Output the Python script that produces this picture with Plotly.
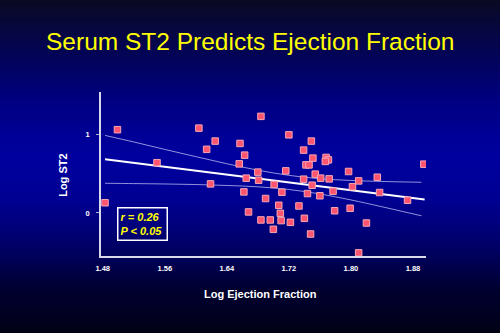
import plotly.graph_objects as go

# ---------------- data ----------------
log_ef = [1.483, 1.499, 1.550, 1.604, 1.614, 1.625, 1.619, 1.657, 1.663, 1.656,
          1.684, 1.680, 1.665, 1.681, 1.662, 1.690, 1.668, 1.684, 1.696, 1.720,
          1.716, 1.701, 1.711, 1.707, 1.709, 1.710, 1.722, 1.700, 1.749, 1.739,
          1.751, 1.768, 1.771, 1.767, 1.742, 1.746, 1.797, 1.754, 1.761, 1.772,
          1.739, 1.810, 1.750, 1.802, 1.777, 1.744, 1.760, 1.733, 1.779, 1.799,
          1.740, 1.748, 1.810, 1.834, 1.837, 1.894, 1.873, 1.820]
log_st2 = [0.13, 1.06, 0.64, 1.08, 0.81, 0.915, 0.37, 0.885, 0.736, 0.625,
           1.23, 0.52, 0.443, 0.417, 0.268, 0.184, 0.013, -0.089, -0.089, 0.995,
           0.536, 0.362, 0.264, 0.098, -0.004, -0.097, -0.119, -0.208, 0.915, 0.80,
           0.698, 0.707, 0.676, 0.656, 0.612, 0.612, 0.528, 0.494, 0.443, 0.434,
           0.43, 0.408, 0.353, 0.334, 0.277, 0.247, 0.219, 0.089, 0.028, 0.06,
           -0.068, -0.268, -0.508, 0.455, 0.26, 0.621, 0.162, -0.128]

fit_x = [1.483, 1.895]
fit_y = [0.685, 0.171]

band_x = [1.483, 1.52, 1.56, 1.60, 1.64, 1.68, 1.72, 1.76, 1.80, 1.84, 1.891]
band_upper = [0.987, 0.904, 0.809, 0.717, 0.627, 0.545, 0.479, 0.436, 0.414, 0.401, 0.391]
band_lower = [0.378, 0.374, 0.369, 0.362, 0.350, 0.333, 0.299, 0.242, 0.166, 0.079, -0.036]

x_ticks = [1.48, 1.56, 1.64, 1.72, 1.80, 1.88]
x_tick_labels = ["1.48", "1.56", "1.64", "1.72", "1.80", "1.88"]
y_ticks = [0, 1]
y_tick_labels = ["0", "1"]

title_text = "Serum ST2 Predicts Ejection Fraction"
x_title = "Log Ejection Fraction"
y_title = "Log ST2"
stats_text = "r = 0.26<br>P < 0.05"

FONT = "Liberation Sans, Arial, sans-serif"

fig = go.Figure()

# confidence bands
for band in (band_upper, band_lower):
    fig.add_trace(go.Scatter(x=band_x, y=band, mode="lines",
                             line=dict(color="rgba(170,170,235,0.85)", width=1, shape="spline"),
                             hoverinfo="skip", showlegend=False))
# regression line
fig.add_trace(go.Scatter(x=fit_x, y=fit_y, mode="lines",
                         line=dict(color="white", width=2), showlegend=False))
# points
fig.add_trace(go.Scatter(x=log_ef, y=log_st2, mode="markers",
                         marker=dict(symbol="square", size=6.5, color="#FF5470",
                                     line=dict(color="#F2A6B4", width=1)),
                         showlegend=False))

# ---------------- background gradient ----------------
L, R, T, B = 101, 74.3, 92, 77.3
W, H = 500, 333
pw, ph = W - L - R, H - T - B
stops = [(0, (10, 10, 34)), (30, (6, 6, 64)), (60, (3, 3, 92)), (100, (0, 0, 128)),
         (140, (0, 0, 152)), (165, (0, 0, 160)), (200, (0, 0, 148)), (230, (0, 0, 120)),
         (260, (0, 0, 85)), (290, (0, 0, 46)), (333, (2, 2, 18))]

def col_at(py):
    for (y0, c0), (y1, c1) in zip(stops[:-1], stops[1:]):
        if y0 <= py <= y1:
            t = (py - y0) / (y1 - y0)
            return "rgb(%d,%d,%d)" % tuple(round(a + (b - a) * t) for a, b in zip(c0, c1))
    return "rgb(%d,%d,%d)" % stops[-1][1]

shapes = []
step = 3
for py in range(0, H, step):
    y_top = (H - B - py) / ph
    y_bot = (H - B - (py + step)) / ph
    shapes.append(dict(type="rect", xref="paper", yref="paper", layer="below",
                       x0=-0.5, x1=1.5, y0=y_bot - 0.002, y1=y_top,
                       fillcolor=col_at(py + step / 2), line=dict(width=0)))

def px_to_paper_x(px):
    return (px - L) / pw

def py_to_paper_y(py):
    return (H - B - py) / ph

annotations = [
    dict(text=title_text, xref="paper", yref="paper", x=px_to_paper_x(250), y=py_to_paper_y(41.7),
         xanchor="center", yanchor="middle", showarrow=False,
         font=dict(family=FONT, size=24.5, color="#FFFF00")),
    dict(text=x_title, xref="paper", yref="paper", x=px_to_paper_x(260), y=py_to_paper_y(294),
         xanchor="center", yanchor="middle", showarrow=False,
         font=dict(family=FONT, size=11, color="white", weight="bold")),
    dict(text=y_title, xref="paper", yref="paper", x=px_to_paper_x(62.7), y=py_to_paper_y(175),
         xanchor="center", yanchor="middle", showarrow=False, textangle=-90,
         font=dict(family=FONT, size=11, color="white", weight="bold")),
    dict(text=stats_text, xref="paper", yref="paper", x=px_to_paper_x(142), y=py_to_paper_y(224.2),
         xanchor="center", yanchor="middle", showarrow=False, align="left",
         width=44, height=27, borderpad=2, bordercolor="white", borderwidth=1.5,
         font=dict(family=FONT, size=11, color="#FFFF00", weight="bold", style="italic")),
]

fig.update_layout(
    width=W, height=H, margin=dict(l=L, r=R, t=T, b=B, pad=0),
    paper_bgcolor="#000060", plot_bgcolor="rgba(0,0,0,0)",
    shapes=shapes, annotations=annotations, showlegend=False,
    font=dict(family=FONT, color="white"),
)
fig.update_xaxes(range=[1.4778, 1.8968], showline=True, linecolor="#d8d8e8", linewidth=1.5,
                 showgrid=False, zeroline=False, tickvals=x_ticks, ticktext=x_tick_labels,
                 ticks="outside", ticklen=4, tickcolor="rgba(0,0,0,0)",
                 tickfont=dict(family=FONT, size=7.5, color="white", weight="bold"))
fig.update_yaxes(range=[-0.548, 1.540], showline=True, linecolor="#d8d8e8", linewidth=1.5,
                 showgrid=False, zeroline=False, tickvals=y_ticks, ticktext=y_tick_labels,
                 ticks="outside", ticklen=3, tickcolor="#b0b0d0", ticklabelstandoff=5,
                 tickfont=dict(family=FONT, size=7.5, color="white", weight="bold"))

fig.write_html("out.html")
